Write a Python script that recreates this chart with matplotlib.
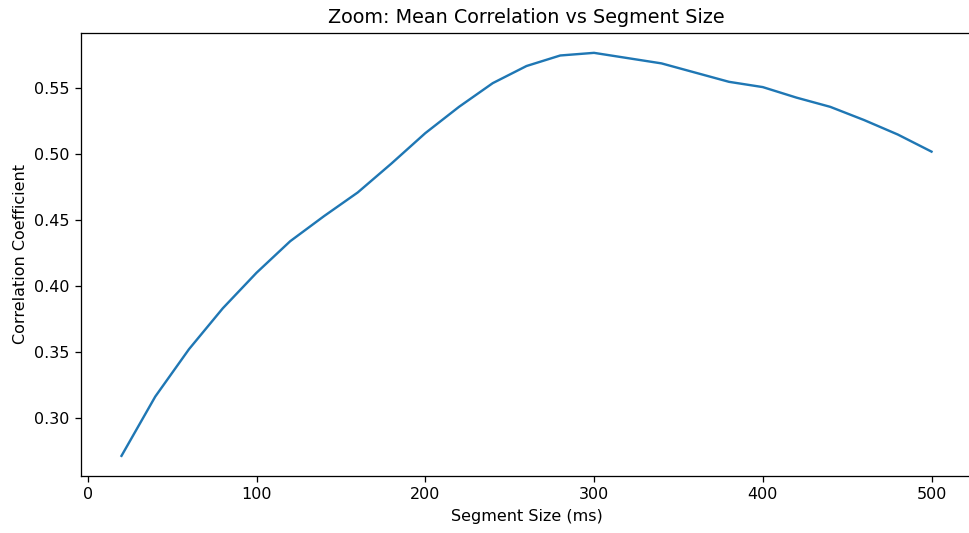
import matplotlib
matplotlib.use("Agg")
import matplotlib.pyplot as plt

# segment sizes (ms) and mean correlation
segment_ms = [20, 40, 60, 80, 100, 120, 140, 160, 180, 200, 220, 240, 260,
              280, 300, 320, 340, 360, 380, 400, 420, 440, 460, 480, 500]
mean_corr = [0.271, 0.316, 0.352, 0.383, 0.410, 0.434, 0.453, 0.471, 0.493,
             0.516, 0.536, 0.554, 0.567, 0.575, 0.577, 0.573, 0.569, 0.562,
             0.555, 0.551, 0.543, 0.536, 0.526, 0.515, 0.502]

# reference looks rendered at a slightly higher dpi, so scale everything up
DPI = 115
fig = plt.figure(figsize=(969 / DPI, 533 / DPI), dpi=DPI)
ax = fig.add_axes([81 / 969, 1 - 476 / 533, 891 / 969, (476 - 32.7) / 533])
ax.plot(segment_ms, mean_corr)
ax.set_title('Zoom: Mean Correlation vs Segment Size')
ax.set_xlabel('Segment Size (ms)')
ax.set_ylabel('Correlation Coefficient')

fig.savefig('out.png', dpi=DPI)
